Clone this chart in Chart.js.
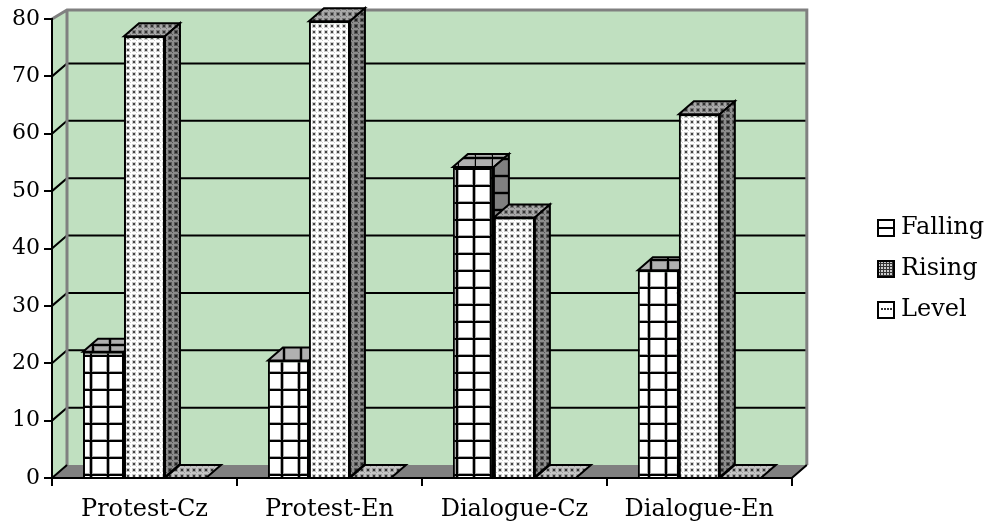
<!DOCTYPE html>
<html>
<head>
<meta charset="utf-8">
<style>body{margin:0;background:#fff}canvas{display:block}</style>
<script src="https://cdn.jsdelivr.net/npm/chart.js@4/dist/chart.umd.min.js"></script>
</head>
<body>
<canvas id="chart" width="997" height="526"></canvas>
<script>
// values
const categories = ['Protest-Cz', 'Protest-En', 'Dialogue-Cz', 'Dialogue-En'];
const seriesNames = ['Falling', 'Rising', 'Level'];
const falling = [22, 20.5, 54.2, 36.2];
const rising = [77, 79.6, 45.4, 63.4];
const level = [0, 0, 0, 0];

const FONT = '"DejaVu Serif", serif';
const DX = 15, DY = 13; // depth of the fake 3d box
const WALL_TOP = 10;

function tileCanvas(w, h, paint) {
  const c = document.createElement('canvas');
  c.width = w; c.height = h;
  paint(c.getContext('2d'));
  return c;
}

function tile(w, h, paint) {
  return document.createElement('canvas').getContext('2d').createPattern(tileCanvas(w, h, paint), 'repeat');
}

// brick of the Falling bars: black 2px lines with a soft grey edge
function gridTile(bg, ox, oy, shade) {
  return tile(17, 17, g => {
    g.fillStyle = bg; g.fillRect(0, 0, 17, 17);
    g.fillStyle = shade;
    if (ox !== null) g.fillRect(ox - 1, 0, 4, 17);
    g.fillRect(0, oy - 1, 17, 4);
    g.fillStyle = '#000';
    if (ox !== null) g.fillRect(ox, 0, 2, 17);
    g.fillRect(0, oy, 17, 2);
  });
}

function dotTile(bg, dot, faint) {
  return tile(6, 6, g => {
    g.fillStyle = bg; g.fillRect(0, 0, 6, 6);
    g.fillStyle = faint; g.fillRect(0, 0, 4, 4);
    g.fillStyle = dot; g.fillRect(1, 1, 2, 2);
    g.fillStyle = faint; g.fillRect(4, 4, 1, 1);
  });
}

// the brick restarts on each Falling bar, so x offset per bar
const gridOffsets = [5, 9, 14, 2];
const fallingFront = gridOffsets.map(ox => gridTile('#fff', ox, 15, '#aaa'));
const fallingTop = gridOffsets.map(ox => gridTile('#b0b0b0', (ox + 2) % 17, 4, '#888'));
const fallingSide = gridOffsets.map(() => gridTile('#808080', null, 5, '#666'));

const faces = [
  { front: fallingFront, top: fallingTop, side: fallingSide },
  { front: dotTile('#fff', '#444', '#ccc'), top: dotTile('#a8a8a8', '#333', '#777'), side: dotTile('#8c8c8c', '#222', '#555') },
  { front: dotTile('#fff', '#444', '#ccc'), top: dotTile('#c4c4c4', '#333', '#999'), side: dotTile('#8c8c8c', '#222', '#555') }
];

function faceFill(di, part, i) {
  const f = faces[di][part];
  return Array.isArray(f) ? f[i] : f;
}

// legend swatches, 18px with a black frame
function swatch(paint) {
  return tileCanvas(18, 18, g => {
    g.fillStyle = '#fff'; g.fillRect(0, 0, 18, 18);
    paint(g);
    g.strokeStyle = '#000'; g.lineWidth = 2; g.strokeRect(1, 1, 16, 16);
  });
}

const legendSwatches = [
  swatch(g => { g.fillStyle = '#000'; g.fillRect(0, 8, 18, 2); }),
  swatch(g => {
    g.fillStyle = '#ccc'; g.fillRect(0, 0, 18, 18);
    g.fillStyle = '#333';
    for (let i = 3; i < 16; i += 3) { g.fillRect(i, 0, 1, 18); g.fillRect(0, i, 18, 1); }
  }),
  swatch(g => {
    g.fillStyle = '#333';
    for (let x = 4; x < 15; x += 3) g.fillRect(x, 7, 2, 2);
  })
];

function poly(ctx, pts, fill) {
  ctx.beginPath();
  pts.forEach((p, i) => i ? ctx.lineTo(p[0], p[1]) : ctx.moveTo(p[0], p[1]));
  ctx.closePath();
  ctx.fillStyle = fill;
  ctx.fill();
  ctx.stroke();
}

const box3d = {
  id: 'box3d',
  // walls, floor and gridlines sit under the axes
  beforeDraw(chart) {
    const { ctx, chartArea: a, scales } = chart;
    const y = scales.y;
    const l = a.left, r = a.right, b = a.bottom, t = a.top;
    ctx.save();
    ctx.fillStyle = '#c0e0c0';
    ctx.beginPath();
    ctx.moveTo(l, b); ctx.lineTo(l, t); ctx.lineTo(l + DX, WALL_TOP); ctx.lineTo(r + DX, WALL_TOP);
    ctx.lineTo(r + DX, b - DY); ctx.lineTo(r, b); ctx.closePath();
    ctx.fill();
    // floor
    ctx.fillStyle = '#808080';
    ctx.beginPath();
    ctx.moveTo(l, b); ctx.lineTo(l + DX, b - DY); ctx.lineTo(r + DX, b - DY); ctx.lineTo(r, b); ctx.closePath();
    ctx.fill();
    // gridlines + the short diagonal on the left wall
    ctx.strokeStyle = '#000';
    ctx.lineWidth = 2;
    y.ticks.forEach(tk => {
      if (tk.value === 0 || tk.value === 80) return;
      const py = y.getPixelForValue(tk.value);
      ctx.beginPath();
      ctx.moveTo(l, py); ctx.lineTo(l + DX, py - DY); ctx.lineTo(r + DX, py - DY);
      ctx.stroke();
    });
    // wall edges
    ctx.strokeStyle = '#808080';
    ctx.lineWidth = 3;
    ctx.beginPath();
    ctx.moveTo(l, t); ctx.lineTo(l + DX, WALL_TOP); ctx.lineTo(r + DX, WALL_TOP); ctx.lineTo(r + DX, b - DY);
    ctx.moveTo(l + DX, WALL_TOP); ctx.lineTo(l + DX, b - DY);
    ctx.stroke();
    ctx.strokeStyle = '#000';
    ctx.lineWidth = 2;
    ctx.beginPath();
    ctx.moveTo(l, b); ctx.lineTo(l + DX, b - DY);
    ctx.moveTo(r, b); ctx.lineTo(r + DX, b - DY);
    ctx.stroke();
    ctx.restore();
  },
  // paint left to right so each bar covers the side of the one before
  beforeDatasetsDraw(chart) {
    const ctx = chart.ctx;
    ctx.save();
    ctx.strokeStyle = '#000';
    ctx.lineWidth = 2;
    chart.data.datasets.forEach((ds, di) => {
      chart.getDatasetMeta(di).data.forEach((bar, i) => {
        const x0 = bar.x - bar.width / 2, x1 = bar.x + bar.width / 2, y0 = bar.y, base = bar.base;
        poly(ctx, [[x0, y0], [x0 + DX, y0 - DY], [x1 + DX, y0 - DY], [x1, y0]], faceFill(di, 'top', i));
        if (base > y0) poly(ctx, [[x1, y0], [x1 + DX, y0 - DY], [x1 + DX, base - DY], [x1, base]], faceFill(di, 'side', i));
        bar.draw(ctx);
      });
    });
    ctx.restore();
  },
  beforeDatasetDraw() { return false; },
  // legend sits apart from the plot, not against it
  afterLayout(chart) {
    const lg = chart.legend;
    const h = lg.bottom - lg.top;
    lg.left = 866; lg.right = 997;
    lg.top = 199; lg.bottom = 199 + h;
  }
};

new Chart(document.getElementById('chart'), {
  type: 'bar',
  data: {
    labels: categories,
    datasets: [falling, rising, level].map((values, i) => ({
      label: seriesNames[i],
      data: values,
      backgroundColor: faces[i].front,
      borderColor: '#000',
      borderWidth: 2
    }))
  },
  options: {
    responsive: false,
    animation: false,
    events: [],
    layout: { padding: { left: 0, right: 77, top: 19, bottom: 0 } },
    datasets: { bar: { categoryPercentage: 0.665, barPercentage: 1 } },
    plugins: {
      title: { display: false },
      tooltip: { enabled: false },
      legend: {
        position: 'right',
        align: 'start',
        labels: {
          usePointStyle: true,
          pointStyleWidth: 6,
          padding: 17,
          color: '#000',
          font: { family: FONT, size: 24 },
          generateLabels: () => seriesNames.map((name, i) => ({
            text: name,
            pointStyle: legendSwatches[i],
            datasetIndex: i
          }))
        }
      }
    },
    scales: {
      x: {
        afterFit(s) { s.height = 48; },
        grid: { drawOnChartArea: false, color: '#000', lineWidth: 2, tickLength: 8 },
        border: { color: '#000', width: 2 },
        ticks: { color: '#000', padding: 9, maxRotation: 0, font: { family: FONT, size: 24 } }
      },
      y: {
        min: 0,
        max: 80,
        afterFit(s) { s.width = 52; },
        grid: { drawOnChartArea: false, color: '#000', lineWidth: 2, tickLength: 8 },
        border: { color: '#000', width: 2 },
        ticks: { stepSize: 10, color: '#000', padding: 4, font: { family: FONT, size: 22 } }
      }
    }
  },
  plugins: [box3d]
});
</script>
</body>
</html>
